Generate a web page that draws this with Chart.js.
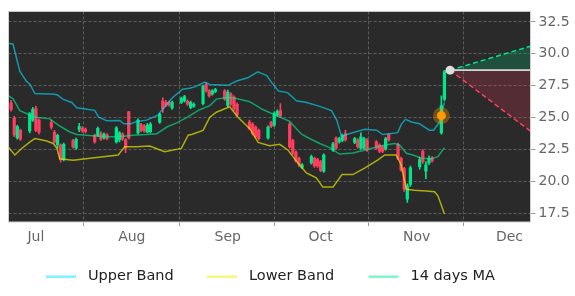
<!DOCTYPE html>
<html><head><meta charset="utf-8">
<script src="https://cdn.jsdelivr.net/npm/chart.js@4.4.0/dist/chart.umd.min.js"></script>
<style>html,body{margin:0;padding:0;background:#fff;}canvas{display:block;}</style>
</head><body>
<canvas id="c" width="575" height="296"></canvas>
<script>
// Day numbers counted from 2020-07-01 (trading days)
const days = [-8,-7,-6,-5,-2,-1,0,1,5,6,7,8,9,12,13,14,15,16,19,20,21,22,23,26,27,28,29,30,33,34,35,36,37,40,41,42,43,44,47,48,49,50,51,54,55,56,57,58,61,62,63,64,65,69,70,71,72,75,76,77,78,79,82,83,84,85,86,89,90,91,92,93,96,97,98,99,100,103,104,105,106,107,110,111,112,113,114,117,118,119,120,121,124,125,126,127,128,131,132];
const open  = [26.15,24.95,23.4,24.0,23.95,24.8,25.7,24.8,24.6,23.85,22.85,22.85,21.7,23.2,22.6,24.1,24.15,24.1,23.6,23.6,23.75,23.4,23.65,23.1,23.25,23.7,23.25,25.45,23.8,24.45,24.35,23.85,23.9,24.65,26.3,26.2,26.2,25.75,26.2,26.3,26.3,25.8,25.9,26.1,27.6,27.1,26.85,27.05,27.1,25.95,26.85,26.6,26.05,24.65,24.5,24.25,24.0,23.4,24.6,24.4,25.2,25.55,24.5,23.2,22.3,21.8,21.1,21.45,21.8,21.7,21.55,20.8,22.45,23.4,23.1,23.2,23.75,23.05,23.25,22.6,22.6,23.25,23.1,22.85,22.7,22.55,23.65,22.85,21.8,21.0,18.6,19.75,21.15,22.35,20.8,21.45,21.85,23.8,26.45];
const high  = [26.35,25.1,24.4,24.1,25.4,25.8,25.9,24.9,24.8,24.0,23.7,22.95,23.0,23.3,23.4,24.55,24.3,24.2,23.7,24.25,23.9,23.8,23.75,24.3,23.9,23.8,23.35,25.5,24.9,24.55,24.45,24.55,24.6,25.35,26.55,26.35,26.3,26.3,26.6,26.75,26.4,26.3,26.15,27.55,27.75,27.2,27.2,27.3,27.2,27.15,26.95,26.7,26.15,24.8,24.6,24.35,24.1,24.35,24.7,25.45,25.6,26.1,24.6,23.3,22.4,21.9,21.4,22.05,21.9,21.8,21.65,22.15,23.05,23.5,23.45,23.7,24.0,23.45,23.35,23.8,23.45,23.35,23.2,22.95,22.8,23.45,23.75,23.0,21.9,21.1,19.8,21.2,21.9,22.5,21.55,22.0,21.95,26.7,28.7];
const low   = [25.5,23.5,23.3,23.2,23.8,24.7,23.9,23.7,24.1,23.0,22.6,21.5,21.6,22.6,22.5,23.9,23.85,23.8,23.0,23.5,23.2,23.3,23.25,23.0,23.1,23.2,22.25,23.3,23.7,23.9,23.85,23.8,23.8,24.55,25.4,25.85,25.9,25.65,26.1,26.2,25.95,25.7,25.8,26.0,27.0,26.6,26.75,26.95,26.35,25.85,25.95,25.55,25.1,24.05,23.65,23.4,23.25,23.3,24.2,24.3,25.1,25.05,22.6,22.1,21.5,21.15,21.0,21.35,21.1,21.1,20.75,20.7,22.35,22.5,23.0,23.1,23.15,22.95,22.6,22.5,22.5,22.35,22.5,22.25,22.25,22.45,23.15,21.7,20.8,19.2,18.35,19.6,20.95,21.4,20.2,21.3,21.5,23.7,26.3];
const close = [25.65,23.65,24.3,23.3,25.3,25.65,24.0,23.85,24.25,23.1,23.6,21.7,22.9,22.7,23.3,24.3,23.95,23.9,23.1,24.15,23.3,23.7,23.35,24.2,23.8,23.3,22.6,23.4,24.8,24.0,23.95,24.4,24.5,25.25,25.7,25.95,26.0,26.2,26.5,26.65,26.05,26.2,26.05,27.45,27.1,26.7,27.1,27.2,26.45,27.0,26.05,25.7,25.2,24.15,23.75,23.5,23.35,24.25,24.3,25.3,25.5,25.15,22.7,22.2,21.6,21.3,21.3,21.95,21.2,21.2,20.85,22.05,22.95,22.6,23.35,23.6,23.25,23.35,22.7,23.5,23.35,22.45,22.6,22.35,22.35,23.35,23.25,21.8,20.9,19.4,19.65,21.05,21.7,21.55,21.3,21.8,21.6,25.95,28.6];

const upperDays = [-9,-7.4,-5.2,-3.2,-1.9,-0.3,4.5,6.1,7.1,8.7,11.6,13.2,16.5,19.0,20.3,22.9,27.1,28.4,30.7,32.6,35.8,39.4,42.0,44.2,47.4,49.7,51.6,54.5,56.2,62.0,64.9,68.4,71.7,74.6,76.2,78.4,81.3,84.2,87.5,91.7,95.5,97.2,98.8,100.4,106.2,110.1,112.0,114.3,116.9,118.1,119.4,121.4,123.9,127.1,128.5,130.4,132];
const upperBand = [30.82,30.77,28.64,27.89,27.60,26.89,26.85,26.83,26.76,26.45,26.19,25.77,25.65,25.57,25.03,24.75,24.78,24.52,24.52,24.70,24.80,25.19,25.96,26.58,27.22,27.31,27.43,27.79,27.60,27.53,27.87,28.12,28.59,28.30,27.74,27.09,26.96,26.32,26.19,25.88,25.55,24.80,23.49,23.67,24.08,24.01,23.67,23.74,23.82,24.49,24.86,24.65,24.52,24.01,24.01,24.65,26.19];

const maDays = [-9,-7.3,-5.2,-1.9,0.2,4.5,7.7,11.0,13.2,18.4,22.9,27.1,31.3,35.8,39.1,42.3,45.5,48.7,52.9,56.2,58.3,61.6,64.8,69.1,73.3,77.7,82.0,85.8,88.4,91.7,94.9,98.1,102.4,105.1,108.9,112.7,115.9,117.5,119.7,122.3,124.5,127.7,129.9,132];
const ma14 = [26.75,26.45,25.55,25.2,25.03,24.9,24.34,23.87,23.67,23.57,23.5,23.5,23.62,23.67,23.74,24.26,24.59,25.0,25.62,25.94,26.45,26.58,26.5,26.25,25.63,25.16,24.7,23.7,23.36,22.97,22.65,22.14,22.22,22.38,22.62,22.85,22.97,22.85,22.2,22.02,21.81,21.77,21.94,22.64];

const lowerDays = [-9,-6.8,-4.6,-1.9,-0.3,3.5,5.6,6.8,7.7,12.0,19.6,26.6,28.7,32.5,36.8,41.6,47.0,49.2,50.3,54.0,56.2,58.3,62.6,65.3,69.1,71.8,75.5,78.8,81.4,84.7,87.4,90.6,92.7,96.0,98.9,102.4,106.2,110.5,112.7,116.4,118.0,119.7,122.3,126.1,128.8,129.9,132];
const lowerBand = [22.72,22.07,22.58,23.1,23.36,23.16,22.97,22.6,21.77,21.66,21.87,22.07,22.72,22.72,22.77,22.33,22.58,23.62,23.67,24.0,25.03,25.42,25.85,25.03,24.13,23.05,22.8,22.9,22.46,21.43,20.66,20.27,19.55,19.55,20.53,20.53,21.04,21.69,22.07,22.07,21.3,19.37,19.3,19.24,19.19,18.86,17.44];

// forecast cone
const fcDays = [133.8, 159.8];
const fcMid  = [28.72, 28.72];
const fcHigh = [28.72, 30.6];
const fcLow  = [28.72, 23.93];
const markerDay = [131];
const markerVal = [25.15];
const lastDay = [133.8];
const lastVal = [28.72];

const monthTicks = [0,31,62,92,123,153];
const monthLabels = ['Jul','Aug','Sep','Oct','Nov','Dec'];
const yTicks = [17.5,20,22.5,25,27.5,30,32.5];

const GREEN = '#00e68a', RED = '#ff3d5f';
const candleColor = days.map((d,i)=> close[i] >= open[i] ? GREEN : RED);
const bodies = days.map((d,i)=>({x:d, y:[open[i], close[i]]}));
const wicks  = days.map((d,i)=>({x:d, y:[low[i], high[i]]}));
const toXY = (xs, ys) => xs.map((x,i)=>({x:x, y:ys[i]}));

const FONT = 'DejaVu Sans';
const legendPos = [46, 207, 368.5];

const bgPlugin = {
  id:'bg',
  beforeDraw(chart){
    const {ctx, chartArea:a} = chart;
    ctx.save();
    ctx.fillStyle = '#ffffff';
    ctx.fillRect(0,0,chart.width,chart.height);
    ctx.fillStyle = '#2a2a2a';
    ctx.fillRect(a.left, a.top, a.right-a.left, a.bottom-a.top);
    ctx.restore();
  },
  afterDraw(chart){
    const {ctx, chartArea:a} = chart;
    ctx.save();
    ctx.strokeStyle = '#cfcfcf';
    ctx.lineWidth = 1;
    ctx.strokeRect(a.left, a.top, a.right-a.left, a.bottom-a.top);
    // legend
    const items = chart.data.datasets.filter(d=>d.legend);
    ctx.font = '14.5px "' + FONT + '"';
    ctx.textBaseline = 'middle';
    ctx.textAlign = 'left';
    items.forEach((d,i)=>{
      const x = legendPos[i], y = 276.7;
      ctx.strokeStyle = d.legendColor;
      ctx.lineWidth = 2.5;
      ctx.beginPath(); ctx.moveTo(x, y); ctx.lineTo(x+30, y); ctx.stroke();
      ctx.fillStyle = '#222222';
      ctx.fillText(d.label, x+42, y);
    });
    ctx.restore();
  }
};

new Chart(document.getElementById('c'), {
  type:'bar',
  data:{datasets:[
    {type:'line', label:'Upper Band', legend:true, legendColor:'rgba(0,229,255,0.5)', data:toXY(upperDays, upperBand), borderColor:'rgba(0,229,255,0.6)', borderWidth:1.5, pointRadius:0, order:5},
    {type:'line', label:'Lower Band', legend:true, legendColor:'rgba(230,240,0,0.5)', data:toXY(lowerDays, lowerBand), borderColor:'rgba(230,230,0,0.7)', borderWidth:1.5, pointRadius:0, order:5},
    {type:'line', label:'14 days MA', legend:true, legendColor:'rgba(0,240,150,0.5)', data:toXY(maDays, ma14), borderColor:'rgba(0,240,150,0.6)', borderWidth:1.5, pointRadius:0, order:5},
    {type:'bar', label:'wick', data:wicks, backgroundColor:candleColor, barThickness:1, grouped:false, order:8},
    {type:'bar', label:'body', data:bodies, backgroundColor:candleColor, barThickness:2.6, grouped:false, minBarLength:1, order:7},
    {type:'line', label:'mid', data:toXY(fcDays, fcMid), borderColor:'#d6d6d6', borderWidth:1.6, pointRadius:0, order:2},
    {type:'line', label:'high', data:toXY(fcDays, fcHigh), borderColor:GREEN, borderDash:[5,3], borderWidth:1.5, pointRadius:0, fill:'-1', backgroundColor:'rgba(0,230,138,0.2)', order:3},
    {type:'line', label:'low', data:toXY(fcDays, fcLow), borderColor:RED, borderDash:[5,3], borderWidth:1.5, pointRadius:0, fill:'-2', backgroundColor:'rgba(255,61,95,0.2)', order:3},
    {type:'scatter', label:'halo', data:toXY(markerDay, markerVal), pointRadius:8.5, backgroundColor:'rgba(255,150,0,0.35)', borderWidth:0, order:1},
    {type:'scatter', label:'marker', data:toXY(markerDay, markerVal), pointRadius:4.5, backgroundColor:'#ff9b00', borderWidth:0, order:0},
    {type:'scatter', label:'last', data:toXY(lastDay, lastVal), pointRadius:4.5, backgroundColor:'#dcdcdc', borderWidth:0, order:0}
  ]},
  options:{
    responsive:false, animation:false, devicePixelRatio:1,
    layout:{padding:{left:8.3, top:7.5, right:0, bottom:0}},
    plugins:{legend:{display:false}, tooltip:{enabled:false}},
    scales:{
      x:{type:'linear', min:-8.85, max:159.8, offset:false,
        grid:{color:'#6a6a6a', lineWidth:0.8, tickLength:4, tickColor:'#9a9a9a', tickWidth:1, tickBorderDash:[]},
        border:{display:false, dash:[3,2]},
        ticks:{color:'#666666', font:{family:FONT, size:14}, padding:3, maxRotation:0, autoSkip:false,
          callback:(v)=>{const i = monthTicks.indexOf(v); return i>=0 ? monthLabels[i] : '';}},
        afterBuildTicks:(s)=>{ s.ticks = monthTicks.map(v=>({value:v})); },
        afterFit:(s)=>{ s.height = 296-222; }
      },
      y:{type:'linear', position:'right', min:16.81, max:33.33,
        grid:{color:'#6a6a6a', lineWidth:0.8, tickLength:5, tickColor:'#9a9a9a', tickWidth:1, tickBorderDash:[]},
        border:{display:false, dash:[3,2]},
        ticks:{color:'#666666', font:{family:FONT, size:14}, padding:3,
          callback:(v)=>Number(v).toFixed(1)},
        afterBuildTicks:(s)=>{ s.ticks = yTicks.map(v=>({value:v})); },
        afterFit:(s)=>{ s.width = 575-530.5; }
      }
    }
  },
  plugins:[bgPlugin]
});
</script>
</body></html>
